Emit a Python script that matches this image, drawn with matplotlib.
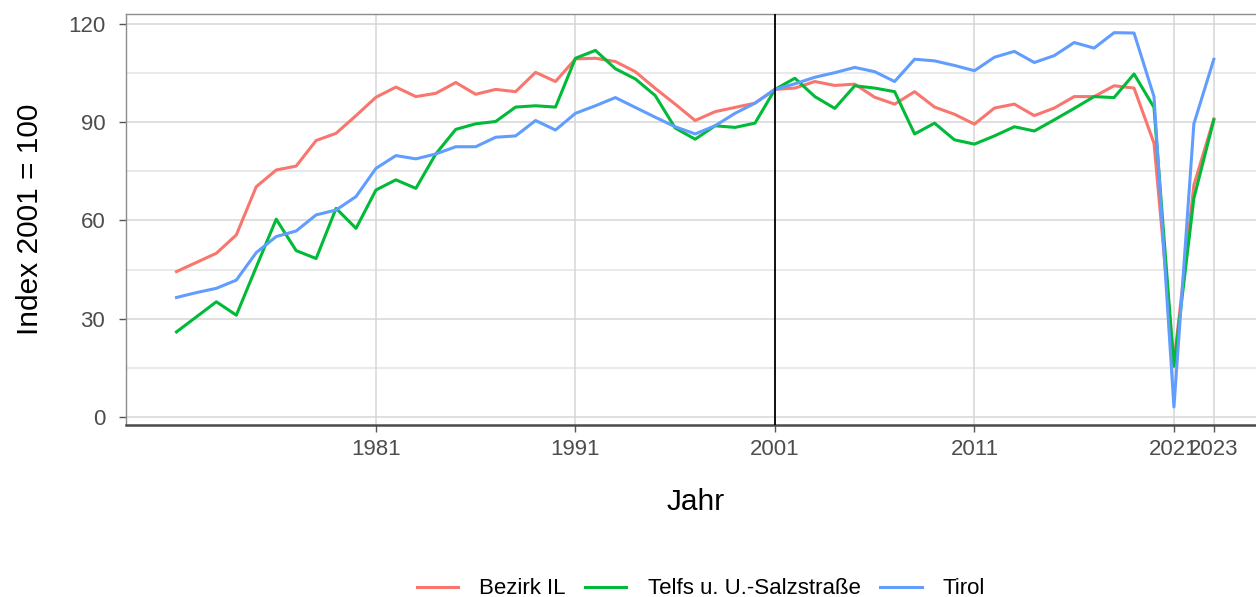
import matplotlib.pyplot as plt
import numpy as np

plt.rcParams['font.family'] = ['Liberation Sans', 'DejaVu Sans']

years = np.arange(1971, 2024)

bezirk_il = [44.4, 47.2, 50.0, 55.6, 70.3, 75.4, 76.6, 84.4, 86.6, 92.0,
             97.6, 100.7, 97.8, 98.8, 102.1, 98.5, 100.0, 99.3, 105.2, 102.4,
             109.3, 109.5, 108.5, 105.4, 100.3, 95.5, 90.5, 93.2, 94.5, 95.8,
             100.0, 100.4, 102.4, 101.2, 101.6, 97.6, 95.5, 99.3, 94.6, 92.4,
             89.4, 94.3, 95.5, 92.0, 94.3, 97.8, 97.8, 101.1, 100.4, 83.6,
             16.5, 70.8, 91.0]
telfs = [26.0, 30.6, 35.2, 31.1, 45.8, 60.4, 50.8, 48.4, 63.7, 57.6,
         69.3, 72.4, 69.8, 80.3, 87.8, 89.5, 90.2, 94.6, 95.0, 94.6,
         109.5, 111.9, 106.3, 103.2, 98.1, 88.2, 84.8, 88.9, 88.4, 89.7,
         100.0, 103.4, 97.8, 94.2, 101.1, 100.4, 99.3, 86.4, 89.7, 84.6,
         83.3, 85.8, 88.6, 87.3, 90.7, 94.2, 97.8, 97.5, 104.7, 94.5,
         15.5, 66.8, 90.7]
tirol = [36.5, 38.0, 39.3, 41.8, 50.2, 55.1, 56.8, 61.7, 63.2, 67.3,
         75.9, 79.8, 78.8, 80.3, 82.5, 82.5, 85.4, 85.8, 90.5, 87.6,
         92.7, 95.0, 97.5, 94.5, 91.5, 88.6, 86.4, 88.9, 92.7, 95.8,
         100.0, 101.7, 103.7, 105.1, 106.7, 105.4, 102.4, 109.2, 108.7, 107.3,
         105.7, 109.8, 111.6, 108.2, 110.3, 114.3, 112.6, 117.3, 117.2, 97.8,
         3.1, 89.5, 109.2]

labels = ['Bezirk IL', 'Telfs u. U.-Salzstraße', 'Tirol']
colors = ['#F8766D', '#00BA38', '#619CFF']
x_ticks = [1981, 1991, 2001, 2011, 2021, 2023]
y_ticks = [0, 30, 60, 90, 120]

fig = plt.figure(figsize=(12.56, 5.97), dpi=100)
ax = fig.add_axes([126/1256, (597-425)/597, (1265.5-126)/1256, (425-14)/597])

# grid
for y in [15, 45, 75, 105]:
    ax.axhline(y, color='#E3E3E3', lw=1.1, zorder=0)
ax.grid(True, color='#D6D6D6', lw=1.1, zorder=0)
ax.set_axisbelow(True)

for vals, lab, col in zip([bezirk_il, telfs, tirol], labels, colors):
    ax.plot(years, vals, color=col, lw=2.2, label=lab, zorder=2)

ax.axvline(2001, color='black', lw=1.3, zorder=3)

ax.set_xlim(1968.47, 2025.59)
ax.set_ylim(-2.4, 123)
ax.set_xticks(x_ticks)
ax.set_xticklabels([str(t) for t in x_ticks])
ax.set_yticks(y_ticks)

ax.tick_params(axis='both', labelsize=16, labelcolor='#4D4D4D', color='#555555',
               length=5, width=1)
ax.tick_params(axis='y', pad=10)
ax.tick_params(axis='x', pad=5)

ax.spines['left'].set_color('#8C8C8C')
ax.spines['left'].set_linewidth(1.0)
ax.spines['top'].set_color('#8C8C8C')
ax.spines['top'].set_linewidth(1.0)
ax.spines['right'].set_visible(False)
ax.spines['bottom'].set_color('#4A4A4A')
ax.spines['bottom'].set_linewidth(1.8)

ax.set_xlabel('Jahr', fontsize=21.5, labelpad=20)
ax.set_ylabel('Index 2001 = 100', fontsize=21.5, labelpad=17)

fig.legend(loc='center', bbox_to_anchor=(0.558, 1 - 589/597), ncol=3, frameon=False,
           fontsize=16, handlelength=1.85, handletextpad=0.95, columnspacing=0.9)

fig.savefig('out.png', dpi=100)
